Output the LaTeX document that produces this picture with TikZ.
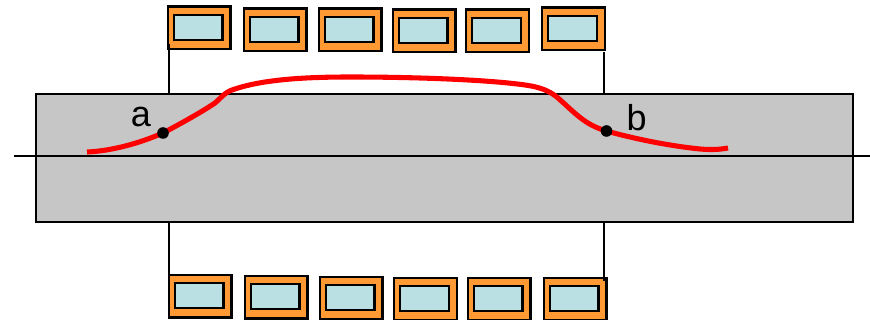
\documentclass[tikz,border=0pt]{standalone}
\usepackage{fontspec}
\setmainfont{Liberation Sans}
\usetikzlibrary{calc}
\definecolor{coilorange}{HTML}{FF9933}
\definecolor{coilblue}{HTML}{BBE0E3}
\definecolor{bodygrey}{HTML}{C6C6C6}
\tikzset{
  coil/.style={draw=black,fill=coilorange,line width=1.75pt,inner sep=0pt,outer sep=0pt,minimum width=47pt,minimum height=32pt},
  core/.style={draw=black,fill=coilblue,line width=1.75pt,inner sep=0pt,outer sep=0pt,minimum width=36.5pt,minimum height=19pt},
  wire/.style={draw=black,line width=1pt},
  dot/.style={circle,fill=black,inner sep=0pt,minimum size=8.7pt},
  lab/.style={font=\fontsize{27pt}{27pt}\selectfont,inner sep=0pt}
}
\begin{document}
\begin{tikzpicture}[x=0.75pt,y=-0.75pt]
    \useasboundingbox (0,0) rectangle (870,320);

    \node[draw=black,fill=bodygrey,line width=1pt,inner sep=0pt,outer sep=0pt,minimum width=612.75pt,minimum height=96pt] (body) at (444.5,158) {};
    \coordinate (axisl) at (14,156);
    \coordinate (axisr) at (870,156);
    \draw[wire] (axisl) -- (axisr);

    \foreach \n/\x/\y in {1/199/28,2/275/30,3/350/30,4/424/31,5/497.5/31,6/573.5/29} {
      \node[coil] (top\n) at (\x,\y) {};
      \node[core] (topcore\n) at ($(top\n)+(-1,-0.5)$) {};
    };
    \foreach \n/\x/\y in {1/200/296,2/276/297,3/351/298,4/425.5/299,5/499/299,6/575/299} {
      \node[coil] (bot\n) at (\x,\y) {};
      \node[core] (botcore\n) at ($(bot\n)+(-1,-0.5)$) {};
    };

    \coordinate (leadtl) at (169,44);
    \coordinate (leadtr) at (604,52);
    \coordinate (leadbl) at (169,274);
    \coordinate (leadbr) at (604,281);
    \draw[wire] (leadtl) -- (leadtl |- body.north);
    \draw[wire] (leadtr) -- (leadtr |- body.north);
    \draw[wire] (leadbl) -- (leadbl |- body.south);
    \draw[wire] (leadbr) -- (leadbr |- body.south);

    \coordinate (a) at (163,133);
    \coordinate (b) at (606.5,131);
    \draw[red,line width=3.8pt] (87,152) .. controls (112,151) and (140,143) .. (a)
          .. controls (180,124) and (200,113) .. (215,103)
          .. controls (222,97) and (224,93) .. (232,90)
          .. controls (260,80) and (300,77) .. (350,77)
          .. controls (420,77) and (490,80) .. (525,85)
          .. controls (540,87) and (550,91) .. (558,98)
          .. controls (575,113) and (585,125) .. (b)
          .. controls (635,139) and (670,146) .. (700,149)
          .. controls (712,150) and (720,149.5) .. (728,148);

    \node[dot] (dota) at (a) {};
    \node[dot] (dotb) at (b) {};
    \node[lab] (laba) at (141,117) {a};
    \node[lab] (labb) at (636.5,118) {b};
\end{tikzpicture}
\end{document}
